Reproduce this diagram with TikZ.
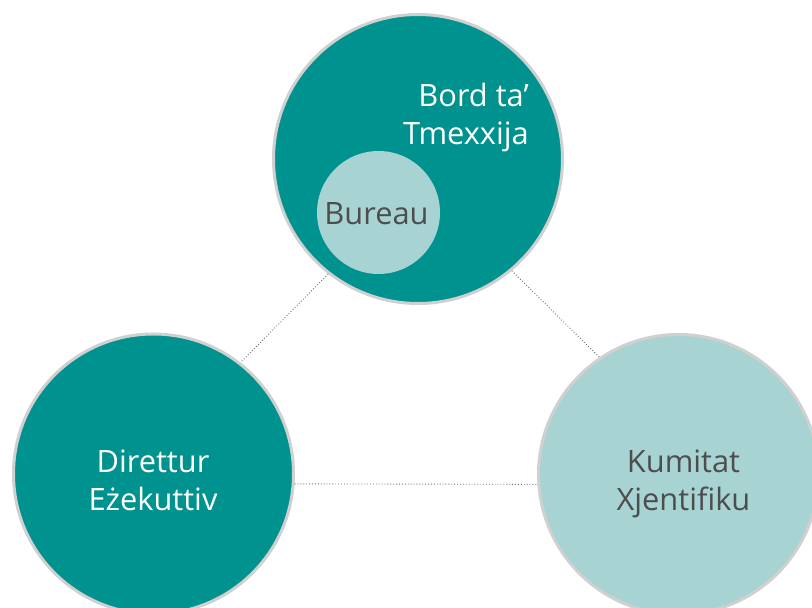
\documentclass[tikz,border=0pt]{standalone}
\usepackage{fontspec}
\setmainfont{Open Sans}
\usetikzlibrary{positioning}

\definecolor{deepteal}{RGB}{0,146,143}
\definecolor{paleteal}{RGB}{168,211,211}
\definecolor{ringgray}{RGB}{208,208,208}
\definecolor{inkgray}{RGB}{77,77,77}
\definecolor{linkgray}{RGB}{110,110,110}

\begin{document}
\begin{tikzpicture}[x=1pt,y=1pt,
        body/.style={circle,draw=ringgray,line width=3pt,inner sep=0pt},
        caption/.style={inner sep=0pt,font=\fontsize{30.8}{38}\selectfont},
        link/.style={draw=linkgray,line width=0.9pt,dash pattern=on 0.9pt off 2pt}]
        \useasboundingbox (0,0) rectangle (812,608);

        % Circles
        \node[body,fill=deepteal,minimum size=289pt] (board) at (418,449) {};
        \node[circle,fill=paleteal,inner sep=0pt,minimum size=123pt] (bureau) at (378.5,395.5) {};
        \node[body,fill=deepteal,minimum size=280pt] (director) at (153.5,134) {};
        \node[body,fill=paleteal,minimum size=280pt] (committee) at (678.5,133.5) {};

        % Texts
        \node[caption,text=white,align=right,anchor=east] (boardtext) at (529,490.5) {Bord ta’\\Tmexxija};
        \node[caption,text=inkgray] (bureautext) at (376.5,394) {Bureau};
        \node[caption,text=white,align=center] (directortext) at (153,127.5) {Direttur\\Eżekuttiv};
        \node[caption,text=inkgray,align=center] (committeetext) at (683.5,124.5) {Kumitat\\Xjentifiku};

        % Links
        \draw[link] (board.232) -- (director.52);
        \draw[link] (board.310) -- (committee.124.5);
        \draw[link] (director.356) -- (committee.184);
\end{tikzpicture}
\end{document}
